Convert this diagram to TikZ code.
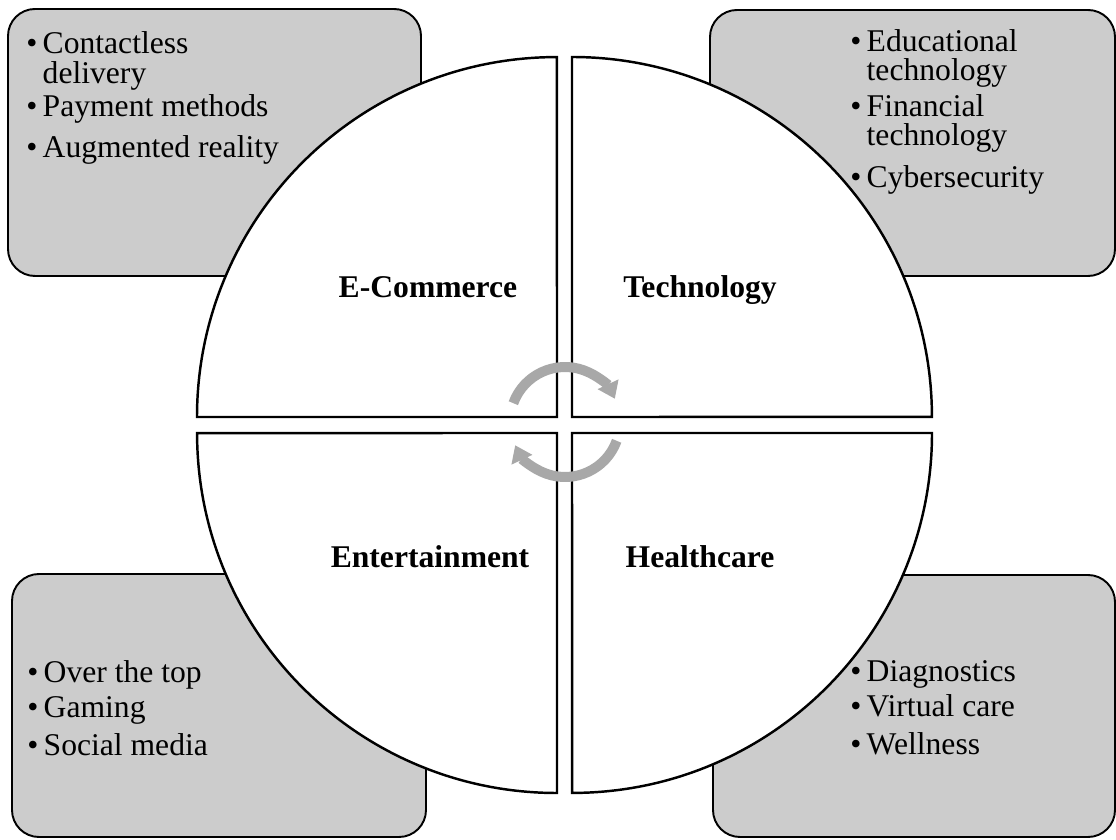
\documentclass[tikz,border=0pt]{standalone}
\usepackage{fontspec}
\setmainfont{Liberation Serif}
\usetikzlibrary{arrows.meta}
\definecolor{boxgray}{HTML}{CCCCCC}
\definecolor{cyclegray}{HTML}{A8A8A8}
\newcommand{\itm}{\textbullet\hspace{3pt}}
\newcommand{\cnt}{\phantom{\textbullet}\hspace{3pt}}

\begin{document}
\begin{tikzpicture}[x=0.02cm, y=0.02cm,
    box/.style={draw, line width=1.1pt, fill=boxgray, rounded corners=0.54cm},
    quad/.style={draw, line width=1.4pt, fill=white},
    list/.style={anchor=north west, align=left, inner sep=0pt, font={\fontsize{18}{#1}\selectfont\lineskiplimit=-20pt}},
    sector/.style={anchor=base, inner sep=0pt, font=\fontsize{18}{20}\selectfont\bfseries},
    cyc/.style={line width=0.2cm, draw=cyclegray, -{Triangle[width=0.44cm, length=0.32cm]}}]
  \useasboundingbox (0,0) rectangle (1116,839);
  % corner boxes
  \draw[box] (8,563) rectangle (421,830);
  \draw[box] (710,563) rectangle (1115,829);
  \draw[box] (12,2) rectangle (426,265);
  \draw[box] (713,2) rectangle (1115,264);
  % four quarters of the circle
  \draw[quad] (557,422) -- (197,422) arc[start angle=180, end angle=90, radius=7.2cm] -- cycle;
  \draw[quad] (572,422) -- (572,782) arc[start angle=90, end angle=0, radius=7.2cm] -- cycle;
  \draw[quad] (572,406) -- (932,406) arc[start angle=0, end angle=-90, radius=7.2cm] -- cycle;
  \draw[quad] (557,406) -- (557,46) arc[start angle=-90, end angle=-180, radius=7.2cm] -- cycle;
  % sector names
  \node[sector] (ecom) at (428,541) {E-Commerce};
  \node[sector] (tech) at (700,541) {Technology};
  \node[sector] (ent) at (430,271) {Entertainment};
  \node[sector] (health) at (700,271) {Healthcare};
  % lists
  \node[list=17] (ecomlist) at (26,808) {\itm Contactless\\ \cnt delivery\\[1.8pt] \itm Payment methods\\[6.3pt] \itm Augmented reality};
  \node[list=16.5] (techlist) at (850,810) {\itm Educational\\ \cnt technology\\[4pt] \itm Financial\\ \cnt technology\\[7.4pt] \itm Cybersecurity};
  \node[list=20] (entlist) at (27,179) {\itm Over the top\\ \itm Gaming\\[1.5pt] \itm Social media};
  \node[list=20] (healthlist) at (850,179) {\itm Diagnostics\\ \itm Virtual care\\[1.5pt] \itm Wellness};
  % cycle arrows
  \coordinate (hub) at (565,417);
  \draw[cyc] ([shift={(160:1.1cm)}]hub) arc[start angle=160, end angle=25, radius=1.1cm];
  \draw[cyc] ([shift={(340:1.1cm)}]hub) arc[start angle=340, end angle=205, radius=1.1cm];
\end{tikzpicture}
\end{document}
